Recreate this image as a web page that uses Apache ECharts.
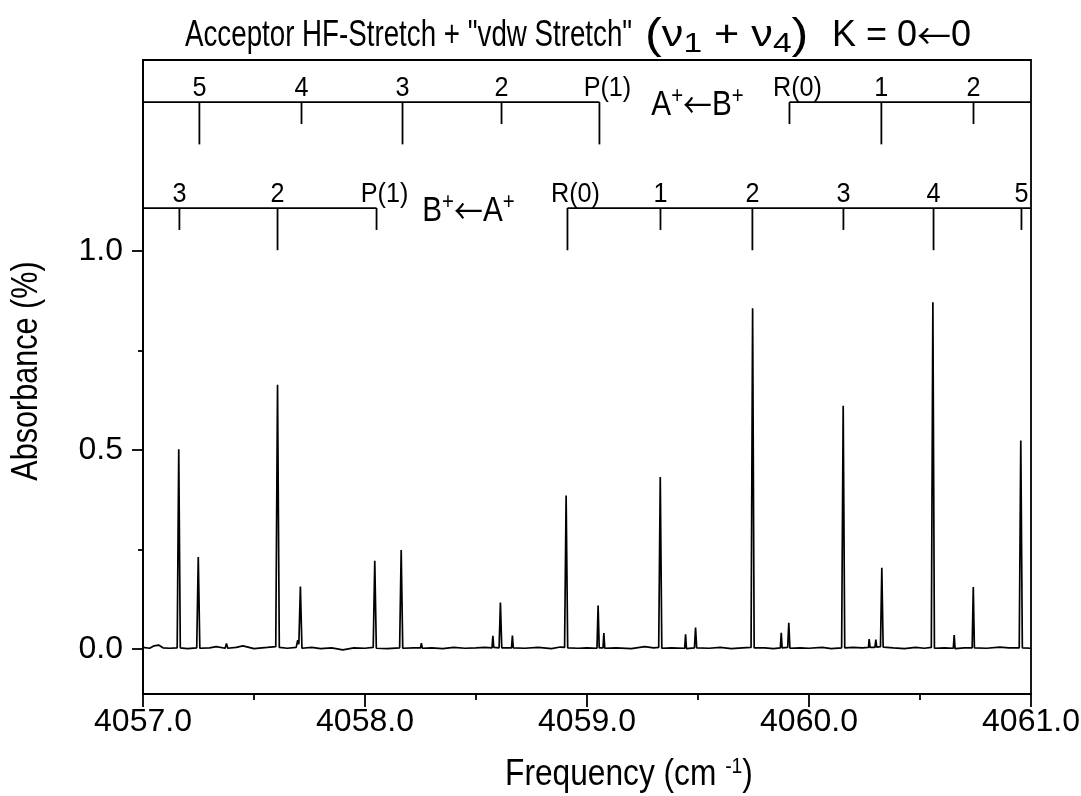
<!DOCTYPE html>
<html><head><meta charset="utf-8">
<script src="https://cdn.jsdelivr.net/npm/echarts@6/dist/echarts.min.js"></script>
<style>html,body{margin:0;padding:0;background:#fff}#c{width:1081px;height:796px}</style>
</head><body><div id="c"></div>
<script>
const FONT = "'Liberation Sans Narrow','Arial Narrow','Liberation Sans',Arial,sans-serif";
const ARROW_FONT = "'Noto Sans CJK JP','DejaVu Sans',sans-serif";

// Spectrum trace: [frequency (cm-1), absorbance (%)]
const spectrum = [
 [4057.000,0.004],[4057.030,0.002],[4057.050,0.008],[4057.070,0.010],[4057.090,0.003],[4057.120,0.002],
 [4057.154,0.003],[4057.161,0.502],[4057.168,0.003],[4057.200,0.001],
 [4057.242,0.003],[4057.249,0.231],[4057.256,0.002],[4057.300,0.003],[4057.330,0.006],
 [4057.370,0.002],[4057.376,0.014],[4057.382,0.002],[4057.420,0.004],[4057.450,0.008],[4057.500,0.001],[4057.560,0.004],
 [4057.598,0.006],[4057.606,0.664],[4057.614,0.004],[4057.650,0.002],
 [4057.690,0.004],[4057.697,0.022],[4057.702,0.012],[4057.709,0.157],[4057.716,0.002],
 [4057.760,0.004],[4057.800,0.001],[4057.850,0.003],[4057.900,-0.002],[4057.950,0.003],[4058.000,0.002],
 [4058.037,0.004],[4058.044,0.222],[4058.051,0.002],[4058.100,0.001],
 [4058.156,0.003],[4058.163,0.249],[4058.170,0.002],[4058.220,0.003],
 [4058.250,0.003],[4058.254,0.015],[4058.258,0.002],[4058.300,0.003],[4058.350,0.001],[4058.400,0.004],[4058.450,0.002],[4058.500,0.003],[4058.540,0.004],
 [4058.572,0.003],[4058.576,0.033],[4058.580,0.004],
 [4058.604,0.003],[4058.610,0.117],[4058.616,0.003],
 [4058.660,0.003],[4058.664,0.034],[4058.668,0.003],[4058.720,0.002],[4058.780,0.004],[4058.840,0.001],[4058.880,0.005],
 [4058.899,0.004],[4058.906,0.386],[4058.913,0.003],[4058.960,0.002],[4059.000,0.003],
 [4059.045,0.002],[4059.050,0.109],[4059.055,0.003],
 [4059.072,0.003],[4059.076,0.040],[4059.080,0.002],[4059.130,0.003],[4059.200,0.001],[4059.260,0.006],[4059.300,0.003],
 [4059.323,0.004],[4059.330,0.432],[4059.337,0.002],[4059.380,0.003],
 [4059.440,0.002],[4059.444,0.037],[4059.448,0.001],
 [4059.484,0.003],[4059.489,0.054],[4059.494,0.003],[4059.550,0.002],[4059.600,0.004],[4059.650,0.001],[4059.700,0.003],
 [4059.739,0.004],[4059.746,0.856],[4059.753,0.003],[4059.800,0.003],[4059.840,0.001],
 [4059.871,0.003],[4059.875,0.041],[4059.879,0.003],
 [4059.904,0.004],[4059.909,0.066],[4059.914,0.002],[4059.960,0.003],[4060.000,0.002],[4060.060,0.004],[4060.100,0.001],
 [4060.147,0.003],[4060.154,0.611],[4060.161,0.003],[4060.200,0.004],[4060.240,0.003],
 [4060.268,0.004],[4060.271,0.025],[4060.275,0.004],
 [4060.297,0.004],[4060.301,0.024],[4060.305,0.005],
 [4060.322,0.006],[4060.328,0.204],[4060.334,0.005],[4060.380,0.003],[4060.430,0.001],[4060.480,0.004],[4060.520,0.002],
 [4060.551,0.004],[4060.558,0.871],[4060.565,0.002],[4060.610,0.003],
 [4060.650,0.002],[4060.654,0.035],[4060.658,0.001],[4060.700,0.003],
 [4060.735,0.003],[4060.740,0.156],[4060.745,0.003],[4060.800,0.002],[4060.860,0.005],[4060.900,0.003],
 [4060.947,0.003],[4060.954,0.524],[4060.961,0.003],[4061.000,0.002]
];

// Assignment brackets
const upperLabels = ['5','4','3','2','P(1)','R(0)','1','2'];
const upperFreqs  = [4057.254,4057.714,4058.169,4058.615,4059.056,4059.912,4060.326,4060.741];
const upperLong   = [1,0,1,0,1,0,1,0];
const upperSpans  = [[4057.0,4059.056],[4059.912,4061.0]];
const upperLevel  = 1.374;
const upperName   = 'A{s|+}{a|←}B{s|+}';
const upperNameFreq = 4059.498;

const lowerLabels = ['3','2','P(1)','R(0)','1','2','3','4','5'];
const lowerFreqs  = [4057.164,4057.606,4058.052,4058.912,4059.331,4059.745,4060.155,4060.561,4060.957];
const lowerLong   = [0,1,0,1,0,1,0,1,0];
const lowerSpans  = [[4057.0,4058.052],[4058.912,4061.0]];
const lowerLevel  = 1.108;
const lowerName   = 'B{s|+}{a|←}A{s|+}';
const lowerNameFreq = 4058.466;

const xTickLabels = [4057.0,4058.0,4059.0,4060.0,4061.0];
const yTickLabels = [0.0,0.5,1.0];
const yMinorTicks = [0.25,0.75];

const SHORT = 0.055, LONG = 0.106;

const bracketItems = [];
function addBranch(labels, freqs, longs, spans, level, name, nameFreq){
  spans.forEach(s => bracketItems.push({type:'span', x1:s[0], x2:s[1], level}));
  labels.forEach((l,i) => bracketItems.push({type:'tick', x:freqs[i], level, depth: longs[i]?LONG:SHORT, label:l}));
  bracketItems.push({type:'name', x:nameFreq, level, text:name});
}
addBranch(upperLabels, upperFreqs, upperLong, upperSpans, upperLevel, upperName, upperNameFreq);
addBranch(lowerLabels, lowerFreqs, lowerLong, lowerSpans, lowerLevel, lowerName, lowerNameFreq);

const chart = echarts.init(document.getElementById('c'), null, {renderer:'canvas'});
const black = '#000';
const LW = 1.8;
chart.setOption({
  animation:false,
  backgroundColor:'#fff',
  grid:{left:143, right:50, top:60, bottom:102, show:true, borderColor:black, borderWidth:LW,
        backgroundColor:'transparent', containLabel:false, outerBoundsMode:'none'},
  xAxis:{
    type:'value', min:4057, max:4061, interval:1,
    axisLine:{show:true, onZero:false, lineStyle:{color:black, width:LW}},
    axisTick:{show:true, length:13, lineStyle:{color:black, width:LW}},
    minorTick:{show:true, splitNumber:2, length:6, lineStyle:{color:black, width:LW}},
    axisLabel:{formatter:v=>xTickLabels.includes(v)?v.toFixed(1):'', fontFamily:FONT, fontSize:32, color:black, margin:12,
               showMinLabel:true, showMaxLabel:true, hideOverlap:false},
    splitLine:{show:false}
  },
  yAxis:[{
    type:'value', min:-0.113, max:1.48,
    axisLine:{show:true, onZero:false, lineStyle:{color:black, width:LW}},
    axisTick:{show:true, length:11, customValues:yTickLabels, lineStyle:{color:black, width:LW}},
    axisLabel:{customValues:yTickLabels, formatter:v=>Number(v).toFixed(1), fontFamily:FONT, fontSize:32, color:black, margin:20},
    splitLine:{show:false}
  },{
    type:'value', min:-0.113, max:1.48, position:'left',
    axisLine:{show:false},
    axisTick:{show:true, length:5, customValues:yMinorTicks, lineStyle:{color:black, width:LW}},
    axisLabel:{show:false},
    splitLine:{show:false}
  }],
  graphic:[
    {type:'text', x:185, y:36, scaleX:0.77, style:{
      text:'Acceptor HF-Stretch + "vdw Stretch"', font:'36px '+FONT, fill:black, align:'left', verticalAlign:'middle'
    }},
    {type:'text', x:645, y:36, scaleX:1.2, style:{
      text:'{p|(}ν{b|1} + ν{b|4}{p|)}', font:'36px '+FONT, fill:black, align:'left', verticalAlign:'middle',
      rich:{b:{fontSize:28, fontFamily:FONT, verticalAlign:'bottom', padding:[16,0,0,0]}, p:{fontSize:42, fontFamily:FONT}}
    }},
    {type:'text', x:832, y:36, scaleX:1.0, style:{
      text:'K = 0{a|←}0', font:'36px '+FONT, fill:black, align:'left', verticalAlign:'middle',
      rich:{a:{fontSize:34, fontFamily:ARROW_FONT}}
    }},
    {type:'text', x:629, y:775, scaleX:0.88, style:{
      text:'Frequency (cm {s|-1})', font:'36px '+FONT, fill:black, align:'center', verticalAlign:'middle',
      rich:{s:{fontSize:22, fontFamily:FONT, verticalAlign:'top', padding:[0,0,16,0]}}
    }},
    {type:'text', x:27, y:371, rotation:Math.PI/2, scaleX:0.85, style:{
      text:'Absorbance (%)', font:'36px '+FONT, fill:black, align:'center', verticalAlign:'middle'
    }}
  ],
  series:[
    {type:'line', data:spectrum, xAxisIndex:0, yAxisIndex:0, showSymbol:false, symbol:'none',
     lineStyle:{color:black, width:1.7}, clip:true},
    {type:'custom', xAxisIndex:0, yAxisIndex:0, clip:false,
     data:bracketItems.map(b => [b.x !== undefined ? b.x : b.x1, b.level]),
     encode:{x:0, y:1},
     renderItem:(params, api) => {
       const b = bracketItems[params.dataIndex];
       if (b.type === 'span') {
         const p1 = api.coord([b.x1, b.level]), p2 = api.coord([b.x2, b.level]);
         return {type:'line', shape:{x1:p1[0], y1:p1[1], x2:p2[0], y2:p2[1]}, style:{stroke:black, lineWidth:LW}};
       }
       if (b.type === 'tick') {
         const p1 = api.coord([b.x, b.level]), p2 = api.coord([b.x, b.level - b.depth]);
         const dx = b.label.length > 1 ? 8 : 0;
         return {type:'group', children:[
           {type:'line', shape:{x1:p1[0], y1:p1[1], x2:p2[0], y2:p2[1]}, style:{stroke:black, lineWidth:LW}},
           {type:'text', x:p1[0]+dx, y:p1[1]-14, scaleX:0.9, style:{text:b.label, font:'28px '+FONT, fill:black, align:'center', verticalAlign:'middle'}}
         ]};
       }
       const p = api.coord([b.x, b.level]);
       return {type:'text', x:p[0], y:p[1]+3, scaleX:0.85, style:{text:b.text, font:'35px '+FONT, fill:black, align:'center', verticalAlign:'middle',
         rich:{s:{fontSize:24, fontFamily:FONT, verticalAlign:'top', padding:[0,0,18,0]}, a:{fontSize:34, fontFamily:ARROW_FONT}}}};
     }
    }
  ]
});
</script></body></html>
